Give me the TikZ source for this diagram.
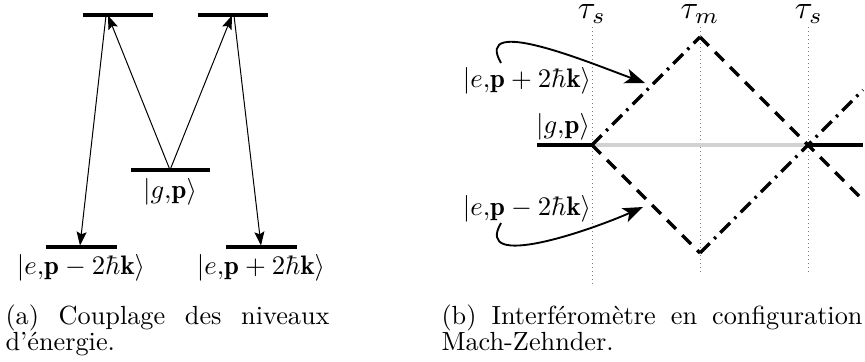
\documentclass[tikz,border=0pt]{standalone}
\usepackage{fontspec}
\usepackage{amsmath,amssymb}
\usetikzlibrary{arrows.meta}
\begin{document}
\begin{tikzpicture}[x=0.4pt,y=0.4pt,
  levelline/.style={line width=1.4pt},
  trans/.style={line width=0.4pt,-{Stealth[length=5.5pt,width=4pt,inset=1pt]}},
  beam/.style={line width=1.3pt},
  dashedbeam/.style={beam, dash pattern=on 5pt off 3.5pt},
  dashdotbeam/.style={beam, dash pattern=on 5.5pt off 2.5pt on 1pt off 2.5pt},
  guide/.style={gray, line width=0.4pt, dash pattern=on 0.4pt off 1.2pt},
  pointer/.style={line width=0.75pt,-{Stealth[length=8pt,width=6pt,inset=2pt]}},
  lbl/.style={inner sep=0pt, scale=1.07},
  taulbl/.style={inner sep=0pt, anchor=base, scale=1.3},
  captext/.style={anchor=base west, inner sep=0pt, align=justify, font=\fontsize{10.5}{10.5}\selectfont}
]
\useasboundingbox (0,0) rectangle (865,361);

% ---------- (a) energy levels ----------
\coordinate (tlA) at (83,346);  \coordinate (tlB) at (153,346);
\coordinate (trA) at (198,346); \coordinate (trB) at (268,346);
\coordinate (mA) at (131,191);  \coordinate (mB) at (210,191);
\coordinate (blA) at (46,114);  \coordinate (blB) at (117,114);
\coordinate (brA) at (226,114); \coordinate (brB) at (297,114);
\draw[levelline] (tlA) -- (tlB);
\draw[levelline] (trA) -- (trB);
\draw[levelline] (mA) -- (mB);
\draw[levelline] (blA) -- (blB);
\draw[levelline] (brA) -- (brB);

\node[lbl] (lg) at (170,169) {$|g{,}\mathbf{p}\rangle$};
\node[lbl] (lem) at (81,93) {$|e{,}\mathbf{p}-2\hbar\mathbf{k}\rangle$};
\node[lbl] (lep) at (261,93) {$|e{,}\mathbf{p}+2\hbar\mathbf{k}\rangle$};

\coordinate (gp) at (170,191);
\coordinate (tl1) at (108,345.5);
\coordinate (tl2) at (106,345.5);
\coordinate (bl) at (80,115.5);
\coordinate (tr1) at (232,345.5);
\coordinate (tr2) at (234,345.5);
\coordinate (br) at (261,115.5);
\draw[trans] (gp) -- (tl1);
\draw[trans] (tl2) -- (bl);
\draw[trans] (gp) -- (tr1);
\draw[trans] (tr2) -- (br);

% ---------- (b) interferometer ----------
\coordinate (g1t) at (592,334); \coordinate (g1b) at (592,74);
\coordinate (g2t) at (700,334); \coordinate (g2b) at (700,86);
\coordinate (g3t) at (808,334); \coordinate (g3b) at (808,86);
\draw[guide] (g1t) -- (g1b);
\draw[guide] (g2t) -- (g2b);
\draw[guide] (g3t) -- (g3b);
\node[taulbl] (t1) at (592,342) {$\tau_s$};
\node[taulbl] (t2) at (700,342) {$\tau_m$};
\node[taulbl] (t3) at (809,342) {$\tau_s$};

\coordinate (gs) at (537,216);
\coordinate (L) at (592,216);
\coordinate (T) at (700,324);
\coordinate (B) at (700,108);
\coordinate (R) at (808,216);
\coordinate (ge) at (863,216);
\coordinate (eD) at (863,161);
\coordinate (eDD) at (863,271);

\draw[beam] (gs) -- (L);
\draw[beam, gray!35] (L) -- (R);
\draw[beam] (R) -- (ge);
\draw[dashdotbeam] (L) -- (T);
\draw[dashedbeam] (T) -- (eD);
\draw[dashedbeam] (L) -- (B);
\draw[dashdotbeam] (B) -- (eDD);

\node[lbl] (rg) at (563,234) {$|g{,}\mathbf{p}\rangle$};
\node[lbl] (rep) at (527,280) {$|e{,}\mathbf{p}+2\hbar\mathbf{k}\rangle$};
\node[lbl] (rem) at (527,152) {$|e{,}\mathbf{p}-2\hbar\mathbf{k}\rangle$};

\coordinate (c1s) at (501,298); \coordinate (c1e) at (645,278);
\coordinate (c2s) at (501,138); \coordinate (c2e) at (643,154);
\draw[pointer] (c1s) to[out=120,in=160] (c1e);
\draw[pointer] (c2s) to[out=-120,in=-156] (c2e);

% ---------- captions ----------
\node[captext, text width=129.6pt] (capa) at (5,37) {(a) Couplage des niveaux d'énergie.};
\node[captext, text width=168.4pt] (capb) at (441,37) {(b) Interféromètre en configuration Mach-Zehnder.};
\end{tikzpicture}
\end{document}
